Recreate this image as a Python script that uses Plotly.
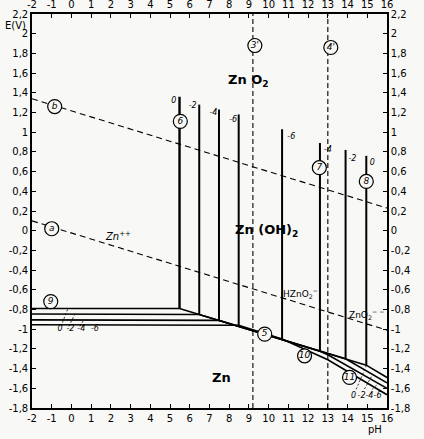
import plotly.graph_objects as go

# ---------------- data ----------------
ph_ticks = list(range(-2, 17))
ph_ticktext = [str(v) for v in ph_ticks]
E_ticks = [round(-1.8 + 0.2 * i, 1) for i in range(21)]
E_ticktext = [("%g" % v).replace(".", ",") for v in E_ticks]

# dashed water lines a and b
line_a_ph = [-2, 16]
line_a_E = [0.10, -1.01]
line_b_ph = [-2, 16]
line_b_E = [1.34, 0.23]

# dashed verticals 3' and 4'
ph_3p = 9.2
ph_4p = 13.0

conc = ["0", "-2", "-4", "-6"]
# line 6 family (Zn++ / Zn(OH)2)
ph6 = [5.48, 6.48, 7.48, 8.48]
top6 = [1.36, 1.28, 1.23, 1.18]
E9 = [-0.79, -0.85, -0.91, -0.96]          # Zn++/Zn level (line 9) for each conc.
# lines 7 / 8 family (Zn(OH)2 / HZnO2- , ZnO2--)
ph78 = [14.95, 13.9, 12.6, 10.68]
top78 = [0.76, 0.82, 0.89, 1.03]
bot78 = [-1.365, -1.30, -1.225, -1.10]

# lower boundaries (lines 9, 5, 10, 11) per concentration
bound_ph = {
    "0": [-2, 5.48, 14.95, 16],
    "-2": [-2, 6.48, 13.9, 16],
    "-4": [-2, 7.48, 12.6, 13.0, 16],
    "-6": [-2, 8.48, 10.68, 13.0, 16],
}
bound_E = {
    "0": [-0.79, -0.79, -1.365, -1.49],
    "-2": [-0.845, -0.85, -1.30, -1.545],
    "-4": [-0.905, -0.91, -1.225, -1.26, -1.60],
    "-6": [-0.955, -0.96, -1.10, -1.31, -1.665],
}

# leader lines from small concentration labels
leaders_left_ph = [[-0.53, -0.18], [-0.13, 0.18], [0.43, 0.63]]
leaders_left_E = [[-0.97, -0.79], [-0.97, -0.845], [-0.97, -0.905]]
leaders_right_ph = [[14.44, 14.95], [14.86, 15.27], [15.25, 15.57], [15.6, 15.8]]
leaders_right_E = [[-1.61, -1.37], [-1.607, -1.46], [-1.61, -1.55], [-1.62, -1.64]]

# circled labels
circ_text = ["b", "a", "6", "3'", "4'", "7", "8", "9", "5", "10", "11"]
circ_ph = [-0.85, -1.0, 5.52, 9.3, 13.15, 12.57, 14.95, -1.05, 9.8, 11.82, 14.1]
circ_E = [1.26, 0.02, 1.11, 1.88, 1.86, 0.64, 0.50, -0.72, -1.05, -1.27, -1.49]

# small concentration labels
lab6_ph = [5.19, 6.15, 7.2, 8.2]
lab6_E = [1.32, 1.265, 1.195, 1.125]
lab78_ph = [15.25, 14.25, 13.0, 11.15]
lab78_E = [0.69, 0.73, 0.82, 0.95]
labL_ph = [-0.58, -0.05, 0.5, 1.19]
labL_E = [-1.0, -1.0, -1.0, -1.0]
labR_ph = [14.3, 14.71, 15.11, 15.52]
labR_E = [-1.68, -1.68, -1.68, -1.68]

# region labels
reg_text = ["<b>Zn O<sub>2</sub></b>", "<b>Zn (OH)<sub>2</sub></b>", "<i>Zn<sup>++</sup></i>",
            "HZnO<sub>2</sub><sup>−</sup>", "ZnO<sub>2</sub><sup>− −</sup>", "<b>Zn</b>"]
reg_ph = [9.0, 9.87, 2.35, 11.6, 15.0, 7.62]
reg_E = [1.53, 0.0, -0.05, -0.64, -0.85, -1.495]
reg_size = [13, 13, 10, 9, 9, 13]

# ---------------- figure ----------------
fig = go.Figure()
K = "black"
BG = "#f8f8f6"


def add_line(x, y, width=1.5, dash="solid"):
    fig.add_trace(go.Scatter(x=x, y=y, mode="lines", line=dict(color=K, width=width, dash=dash),
                             hoverinfo="skip", showlegend=False))


add_line(line_a_ph, line_a_E, 1.1, "6px,4px")
add_line(line_b_ph, line_b_E, 1.1, "6px,4px")
add_line([ph_3p, ph_3p], [-1.8, 2.2], 1.1, "5px,3px")
add_line([ph_4p, ph_4p], [-1.8, 2.2], 1.1, "5px,3px")

for i in range(4):
    add_line([ph6[i], ph6[i]], [top6[i], E9[i]], 2.4 if i == 0 else 2.0)
    add_line([ph78[i], ph78[i]], [top78[i], bot78[i]], 2.0)
for c in conc:
    add_line(bound_ph[c], bound_E[c], 1.6)

for x, y in zip(leaders_left_ph, leaders_left_E):
    add_line(x, y, 0.8, "2px,2px")
for x, y in zip(leaders_right_ph, leaders_right_E):
    add_line(x, y, 0.8, "2px,2px")

fig.add_trace(go.Scatter(
    x=circ_ph, y=circ_E, mode="markers+text",
    text=["<i>%s</i>" % t for t in circ_text], textposition="middle center",
    textfont=dict(size=9, color=K, family="DejaVu Sans"),
    marker=dict(symbol="circle", size=14, color=BG, line=dict(color=K, width=1.2)),
    hoverinfo="skip", showlegend=False))

for xs, ys in [(lab6_ph, lab6_E), (lab78_ph, lab78_E), (labL_ph, labL_E), (labR_ph, labR_E)]:
    fig.add_trace(go.Scatter(x=xs, y=ys, mode="text", text=["<i>%s</i>" % c for c in conc],
                             textposition="middle center",
                             textfont=dict(size=8, color=K, family="DejaVu Sans"),
                             hoverinfo="skip", showlegend=False))

for t, x, y, s in zip(reg_text, reg_ph, reg_E, reg_size):
    fig.add_annotation(x=x, y=y, text=t, showarrow=False,
                       font=dict(size=s, color=K, family="DejaVu Sans"))

# invisible trace for the mirrored (top/right) labelled axes
fig.add_trace(go.Scatter(x=[-2, 16], y=[-1.8, 2.2], xaxis="x2", yaxis="y2", mode="markers",
                         marker=dict(opacity=0), hoverinfo="skip", showlegend=False))

fig.add_annotation(text="E(V)", x=0, y=1, xref="paper", yref="paper", xanchor="right", yanchor="top",
                   xshift=-4, yshift=-4, showarrow=False, font=dict(size=10, color=K, family="DejaVu Sans"))
fig.add_annotation(text="pH", x=15.4, y=0, yref="paper", yanchor="top", yshift=-14,
                   showarrow=False, font=dict(size=10, color=K, family="DejaVu Sans"))

axfont = dict(size=10, color=K, family="DejaVu Sans")
xcommon = dict(range=[-2, 16], tickvals=ph_ticks, ticktext=ph_ticktext, ticks="inside", ticklen=4,
               tickcolor=K, showline=True, linecolor=K, linewidth=1.6, showgrid=False,
               zeroline=False, tickfont=axfont, automargin=False)
ycommon = dict(range=[-1.8, 2.2], tickvals=E_ticks, ticktext=E_ticktext, ticks="inside", ticklen=4,
               tickcolor=K, showline=True, linecolor=K, linewidth=1.6, showgrid=False,
               zeroline=False, tickfont=axfont, automargin=False)

fig.update_layout(
    width=424, height=439,
    margin=dict(l=32, r=37, t=14, b=31, autoexpand=False),
    paper_bgcolor=BG, plot_bgcolor=BG,
    showlegend=False,
    xaxis=dict(**xcommon),
    yaxis=dict(**ycommon),
    xaxis2=dict(**xcommon, overlaying="x", side="top", anchor="y"),
    yaxis2=dict(**ycommon, overlaying="y", side="right", anchor="x"),
)

fig.write_html("out.html", config={"displayModeBar": False},
               post_script="document.body.style.margin='0';document.body.style.background='%s';" % BG)
